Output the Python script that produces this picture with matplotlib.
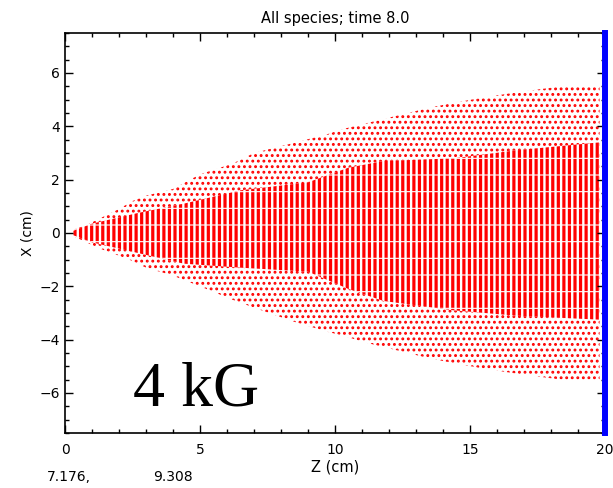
import matplotlib
matplotlib.use("Agg")
import matplotlib.pyplot as plt
import numpy as np

# outer edge of the particle cloud (cm)
z_env = [0.3, 0.8, 1.2, 2.0, 2.5, 3.0, 4.0, 5.0, 6.2, 7.0, 8.4, 9.7, 10.3,
         11.1, 11.9, 12.7, 13.5, 14.5, 15.6, 16.9, 18.4, 19.8]
x_top = [0.12, 0.3, 0.5, 0.9, 1.2, 1.4, 1.65, 2.2, 2.6, 3.0, 3.36, 3.7, 3.9,
         4.1, 4.3, 4.5, 4.7, 4.9, 5.1, 5.3, 5.5, 5.5]
x_bot = [-0.12, -0.35, -0.55, -0.85, -1.05, -1.3, -1.6, -2.0, -2.5, -2.8, -3.3,
         -3.7, -3.85, -4.1, -4.3, -4.5, -4.7, -4.9, -5.1, -5.3, -5.5, -5.5]

# dense core of the beam
z_core = [0.3, 1.0, 2.7, 4.4, 6.5, 9.0, 10.5, 11.8, 14.4, 16.7, 19.8]
core_top = [0.08, 0.35, 0.75, 1.1, 1.6, 1.9, 2.45, 2.7, 2.8, 3.1, 3.4]
core_bot = [-0.08, -0.35, -0.75, -1.15, -1.3, -1.45, -2.1, -2.55, -2.9, -3.1, -3.25]

# wall particles (blue) at the end plate
z_wall = 20.0
x_wall = [-7.5, 7.5]

fig = plt.figure(figsize=(6.13, 4.88), dpi=100)
ax = fig.add_axes([65/613, 1-433/488, 540/613, 400/488])

plt.rcParams['hatch.color'] = 'red'
plt.rcParams['hatch.linewidth'] = 1.3
ax.fill_between(z_env, x_bot, x_top, facecolor='white', edgecolor='red',
                hatch='...', linewidth=0)
plt.rcParams['hatch.linewidth'] = 2.3
ax.fill_between(z_core, core_bot, core_top, facecolor='white', edgecolor='red',
                hatch='|||', linewidth=0)
# thin white row gaps through the core
plt.rcParams['hatch.linewidth'] = 0.8
ax.fill_between(z_core, core_bot, core_top, facecolor='none', edgecolor='white',
                hatch='-', linewidth=0)

ax.plot([z_wall, z_wall], x_wall, color='blue', lw=4.3, clip_on=False, zorder=5)

ax.set_xlim(0, 20)
ax.set_ylim(-7.5, 7.5)
ax.set_xticks([0, 5, 10, 15, 20])
ax.set_xticks(np.arange(0, 21, 1), minor=True)
ax.set_yticks([-6, -4, -2, 0, 2, 4, 6])
ax.set_yticks(np.arange(-7.5, 7.6, 0.5), minor=True)
ax.tick_params(which='both', direction='in', top=True, right=True, labelsize=10)
ax.tick_params(which='major', length=6, width=1)
ax.tick_params(which='minor', length=3, width=1)
ax.tick_params(axis='x', pad=7)
for s in ax.spines.values():
    s.set_linewidth(1.2)

ax.set_title("All species; time 8.0", fontsize=10.5, pad=7)
ax.set_xlabel("Z (cm)", fontsize=10.5, labelpad=2)
ax.set_ylabel("X (cm)", fontsize=10, labelpad=4)

ax.text(133/613, 1-390/488, "4 kG", transform=fig.transFigure,
        family='Liberation Serif', fontsize=46, va='center', ha='left')
fig.text(47/613, 1-477/488, "7.176,", fontsize=10, va='center')
fig.text(153/613, 1-477/488, "9.308", fontsize=10, va='center')

fig.savefig("out.png", dpi=100)
